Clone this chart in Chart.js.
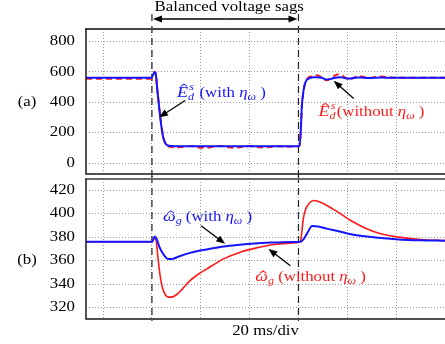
<!DOCTYPE html>
<html>
<head>
<meta charset="utf-8">
<script src="https://cdn.jsdelivr.net/npm/chart.js@4.4.1/dist/chart.umd.min.js"></script>
<style>
    body { margin: 0; background: #fff; }
    #wrap { position: relative; width: 445px; height: 344px; }
    #wrap canvas { position: absolute; left: 0; }
</style>
</head>
<body>
<div id="wrap">
    <canvas id="chartA" width="445" height="177" style="top:0px"></canvas>
    <canvas id="chartB" width="445" height="168" style="top:176px"></canvas>
</div>

<script>
// time axis in ms (20 ms per division), sag between 20 and 80 ms
var xTicks = [0, 20, 40, 60, 80, 100, 120, 140]
var sagStart = 20
var sagEnd = 80

// (a) estimated stator voltage E_d^s
var yTicksA = [0, 200, 400, 600, 800]
var timeA = [-7, 10, 19.8, 20.6, 21.1, 21.6, 22.2, 23, 23.8, 24.6, 25.5, 26.5, 28, 30, 33, 36, 39, 42, 45, 48,
    51, 54, 57, 60, 63, 66, 69, 72, 75, 78, 80.4, 80.9, 81.4, 82, 82.6, 83.3, 84, 85, 86, 87.6,
    89.5, 91.5, 93.5, 95, 96.8, 98.5, 100.6, 102.5, 104.5, 106.5, 108.5, 111, 114, 118, 125, 140]
var edWith = [562, 562, 562, 585, 600, 585, 480, 360, 250, 170, 130, 116, 112, 110, 110, 110, 110, 110, 110, 110,
    110, 110, 110, 110, 110, 110, 110, 110, 110, 110, 112, 200, 380, 470, 520, 545, 555, 562, 565, 566,
    562, 550, 555, 562, 565, 562, 556, 560, 564, 562, 560, 562, 563, 562, 562, 562]
var edWithout = [556, 556, 556, 585, 602, 588, 485, 365, 255, 172, 128, 112, 106, 102, 108, 112, 103, 100, 108, 113,
    104, 100, 108, 112, 105, 102, 108, 111, 108, 110, 112, 195, 370, 465, 520, 548, 562, 570, 575, 578,
    565, 545, 560, 578, 586, 570, 549, 560, 574, 568, 558, 566, 570, 563, 562, 562]

// (b) estimated generator speed omega_g
var yTicksB = [320, 340, 360, 380, 400, 420]
var timeBWith = [-7, 10, 20, 20.6, 21.2, 22, 23, 24.5, 26, 27, 28.5, 31, 35.6, 39.7, 45, 49.3, 56, 60.4, 65, 70,
    76.8, 80.8, 82, 83.5, 85.6, 88, 92, 96, 101.4, 108, 113.7, 121, 130, 140]
var wgWith = [376, 376, 376, 378, 380.5, 378, 372, 366, 362, 361.3, 361.5, 363.5, 366.6, 368.6, 370.5, 372, 373.5, 374.3, 375, 375.4,
    375.8, 376, 378, 383, 389.4, 389, 387, 385.2, 382.5, 380.5, 379.2, 378, 377.3, 377]
var timeBWithout = [-7, 10, 20, 20.6, 21.2, 21.8, 22.5, 23.3, 24.3, 25.5, 26.7, 28, 30, 32.5, 35.6, 39.7, 42.5, 46, 49.3, 56.2,
    63, 69.9, 76.8, 80.8, 81.4, 82, 83, 84.5, 86.3, 88.5, 92, 96, 101.4, 107, 113.7, 121, 130, 140]
var wgWithout = [376, 376, 376, 378, 380, 376, 362, 348, 337, 331, 329, 329, 331, 336, 343, 349.5, 353, 357.5, 361.5, 367.2,
    370.9, 373.7, 374.9, 375.8, 385, 396, 404, 409, 411.1, 410, 406.5, 401.5, 394.1, 388, 382.8, 380, 378, 377]

var blue = '#1414ff'
var red = '#ff1a1a'
var serif = '"Liberation Serif", "Times New Roman", serif'
var SX = 1.2   // the figure's text is a bit wide, stretch it horizontally

function toPoints(xs, ys) {
    return xs.map(function (x, i) { return { x: x, y: ys[i] } })
}

function arrow(ctx, x0, y0, x1, y1) {
    var ang = Math.atan2(y1 - y0, x1 - x0)
    var len = 9, half = 3.5
    ctx.save()
    ctx.strokeStyle = '#000'
    ctx.fillStyle = '#000'
    ctx.lineWidth = 1.3
    ctx.beginPath()
    ctx.moveTo(x0, y0)
    ctx.lineTo(x1 - Math.cos(ang) * len * 0.8, y1 - Math.sin(ang) * len * 0.8)
    ctx.stroke()
    ctx.beginPath()
    ctx.moveTo(x1, y1)
    ctx.lineTo(x1 - Math.cos(ang) * len - Math.sin(ang) * half, y1 - Math.sin(ang) * len + Math.cos(ang) * half)
    ctx.lineTo(x1 - Math.cos(ang) * len + Math.sin(ang) * half, y1 - Math.sin(ang) * len - Math.cos(ang) * half)
    ctx.closePath()
    ctx.fill()
    ctx.restore()
}

// plain stretched text, align 'left' | 'center' | 'right'
function wideText(ctx, text, x, y, size, align) {
    ctx.save()
    ctx.font = size + 'px ' + serif
    ctx.fillStyle = '#000'
    ctx.textBaseline = 'middle'
    ctx.textAlign = align
    ctx.translate(x, y)
    ctx.scale(SX, 1)
    ctx.fillText(text, 0, 0)
    ctx.restore()
}

// draws a little math label piece by piece
function richText(ctx, x, y, parts, color) {
    ctx.save()
    ctx.translate(x, y)
    ctx.scale(SX, 1)
    ctx.fillStyle = color
    ctx.strokeStyle = color
    ctx.textAlign = 'left'
    ctx.textBaseline = 'alphabetic'
    var cx = 0
    parts.forEach(function (p) {
        if (p.sup !== undefined) {
            ctx.font = 'italic 10px ' + serif
            ctx.fillText(p.sup, cx + 1, -7)
            ctx.fillText(p.sub, cx, 3)
            cx += Math.max(ctx.measureText(p.sup).width + 1, ctx.measureText(p.sub).width) + 1
            return
        }
        var sz = p.sz || 14
        ctx.font = (p.it ? 'italic ' : '') + sz + 'px ' + serif
        ctx.fillText(p.t, cx, p.dy || 0)
        var w = ctx.measureText(p.t).width
        if (p.hat) {
            var mx = cx + w * 0.62, top = -p.hat
            ctx.lineWidth = 0.9
            ctx.beginPath()
            ctx.moveTo(mx - 2.8, top + 2.5)
            ctx.lineTo(mx, top)
            ctx.lineTo(mx + 2.8, top + 2.5)
            ctx.stroke()
        }
        cx += w
    })
    ctx.restore()
}

function vDashed(ctx, x, y0, y1) {
    ctx.save()
    ctx.strokeStyle = '#222'
    ctx.lineWidth = 1.2
    ctx.setLineDash([7, 5])
    ctx.beginPath()
    ctx.moveTo(x, y0)
    ctx.lineTo(x, y1)
    ctx.stroke()
    ctx.restore()
}

function frame(ctx, area, topColor, topWidth) {
    ctx.save()
    ctx.lineWidth = topWidth
    ctx.strokeStyle = topColor
    ctx.beginPath()
    ctx.moveTo(area.left - 1, area.top)
    ctx.lineTo(area.right, area.top)
    ctx.stroke()
    ctx.lineWidth = 1.5
    ctx.strokeStyle = '#1a1a1a'
    ctx.beginPath()
    ctx.moveTo(area.left, area.top)
    ctx.lineTo(area.left, area.bottom)
    ctx.lineTo(area.right, area.bottom)
    ctx.stroke()
    ctx.restore()
}

// y tick labels are drawn by the plugin (stretched serif), from the scale's ticks
function drawYLabels(ctx, scale) {
    scale.ticks.forEach(function (t) {
        wideText(ctx, String(t.value), scale.right - 11, scale.getPixelForValue(t.value), 14, 'right')
    })
}

function axisOptions(yMin, yMax, yTicks) {
    return {
        x: {
            type: 'linear', min: -7, max: 140,
            afterBuildTicks: function (s) { s.ticks = xTicks.map(function (v) { return { value: v } }) },
            afterFit: function (s) { s.height = 0; s.paddingLeft = 0; s.paddingRight = 0 },
            ticks: { display: false },
            grid: { color: '#9a9a9a', lineWidth: 1, drawTicks: false },
            border: { display: false, dash: [1, 2] }
        },
        y: {
            min: yMin, max: yMax,
            afterBuildTicks: function (s) { s.ticks = yTicks.map(function (v) { return { value: v } }) },
            afterFit: function (s) { s.width = 86; s.paddingTop = 0; s.paddingBottom = 0 },
            ticks: { display: false },
            grid: { color: '#9a9a9a', lineWidth: 1, drawTicks: false },
            border: { display: false, dash: [1, 2] }
        }
    }
}

var commonOpts = {
    responsive: false,
    animation: false,
    devicePixelRatio: 1,
    plugins: { legend: { display: false }, tooltip: { enabled: false } },
    elements: { point: { radius: 0 } }
}

var annotA = {
    id: 'annotA',
    beforeDatasetsDraw: function (chart) {
        var ctx = chart.ctx, xs = chart.scales.x
        vDashed(ctx, xs.getPixelForValue(sagStart), 14, chart.height)
        vDashed(ctx, xs.getPixelForValue(sagEnd), 14, chart.height)
    },
    afterDraw: function (chart) {
        var ctx = chart.ctx, xs = chart.scales.x, ys = chart.scales.y
        frame(ctx, chart.chartArea, '#444', 2)
        drawYLabels(ctx, ys)
        var x0 = xs.getPixelForValue(sagStart), x1 = xs.getPixelForValue(sagEnd)
        arrow(ctx, (x0 + x1) / 2, 19, x0 + 1, 19)
        arrow(ctx, (x0 + x1) / 2, 19, x1 - 1, 19)
        wideText(ctx, 'Balanced voltage sags', (x0 + x1) / 2 + 4, 7, 14, 'center')
        wideText(ctx, '(a)', 27, ys.getPixelForValue(400), 14, 'center')
        arrow(ctx, xs.getPixelForValue(33.6), ys.getPixelForValue(412), xs.getPixelForValue(22.9), ys.getPixelForValue(301))
        arrow(ctx, xs.getPixelForValue(102.6), ys.getPixelForValue(425), xs.getPixelForValue(94.4), ys.getPixelForValue(542))
        richText(ctx, xs.getPixelForValue(30.3), ys.getPixelForValue(435), [
            { t: 'E', it: true, sz: 15, hat: 13 }, { sup: 's', sub: 'd' },
            { t: ' (with ' }, { t: 'η', it: true }, { t: 'ω', it: true, sz: 10, dy: 3 }, { t: ' )' }
        ], blue)
        richText(ctx, xs.getPixelForValue(88.2), ys.getPixelForValue(307), [
            { t: 'E', it: true, sz: 15, hat: 13 }, { sup: 's', sub: 'd' },
            { t: '(without ' }, { t: 'η', it: true }, { t: 'ω', it: true, sz: 10, dy: 3 }, { t: ' )' }
        ], red)
    }
}

var annotB = {
    id: 'annotB',
    beforeDatasetsDraw: function (chart) {
        var ctx = chart.ctx, xs = chart.scales.x
        var bottom = chart.chartArea.bottom + 2
        vDashed(ctx, xs.getPixelForValue(sagStart), 0, bottom)
        vDashed(ctx, xs.getPixelForValue(sagEnd), 0, bottom)
    },
    afterDraw: function (chart) {
        var ctx = chart.ctx, xs = chart.scales.x, ys = chart.scales.y, area = chart.chartArea
        frame(ctx, area, '#6a6a6a', 2)
        drawYLabels(ctx, ys)
        wideText(ctx, '20 ms/div', (area.left + area.right) / 2, area.bottom + 12, 14, 'center')
        wideText(ctx, '(b)', 27, ys.getPixelForValue(360), 14, 'center')
        arrow(ctx, xs.getPixelForValue(40.1), ys.getPixelForValue(389.6), xs.getPixelForValue(50), ys.getPixelForValue(374.3))
        arrow(ctx, xs.getPixelForValue(76.7), ys.getPixelForValue(355.6), xs.getPixelForValue(67.7), ys.getPixelForValue(370))
        richText(ctx, xs.getPixelForValue(24.5), ys.getPixelForValue(393.9), [
            { t: 'ω', it: true, sz: 15, hat: 10 }, { t: 'g', it: true, sz: 10, dy: 3 },
            { t: ' (with ' }, { t: 'η', it: true }, { t: 'ω', it: true, sz: 10, dy: 3 }, { t: ' )' }
        ], blue)
        richText(ctx, xs.getPixelForValue(62.3), ys.getPixelForValue(342.8), [
            { t: 'ω', it: true, sz: 15, hat: 10 }, { t: 'g', it: true, sz: 10, dy: 3 },
            { t: ' (without ' }, { t: 'η', it: true }, { t: 'ω', it: true, sz: 10, dy: 3 }, { t: ' )' }
        ], red)
    }
}

new Chart(document.getElementById('chartA'), {
    type: 'line',
    data: {
        datasets: [
            { data: toPoints(timeA, edWith), borderColor: blue, borderWidth: 2, cubicInterpolationMode: 'monotone' },
            { data: toPoints(timeA, edWithout), borderColor: red, borderWidth: 2, borderDash: [6, 4], cubicInterpolationMode: 'monotone' }
        ]
    },
    options: Object.assign({}, commonOpts, {
        layout: { padding: { top: 29, bottom: 3, left: 0, right: 0 } },
        scales: axisOptions(-72, 883, yTicksA)
    }),
    plugins: [annotA]
})

new Chart(document.getElementById('chartB'), {
    type: 'line',
    data: {
        datasets: [
            { data: toPoints(timeBWith, wgWith), borderColor: blue, borderWidth: 2, cubicInterpolationMode: 'monotone' },
            { data: toPoints(timeBWithout, wgWithout), borderColor: red, borderWidth: 1.6, cubicInterpolationMode: 'monotone' }
        ]
    },
    options: Object.assign({}, commonOpts, {
        layout: { padding: { top: 3, bottom: 25, left: 0, right: 0 } },
        scales: axisOptions(310.4, 429.4, yTicksB)
    }),
    plugins: [annotB]
})
</script>
</body>
</html>
